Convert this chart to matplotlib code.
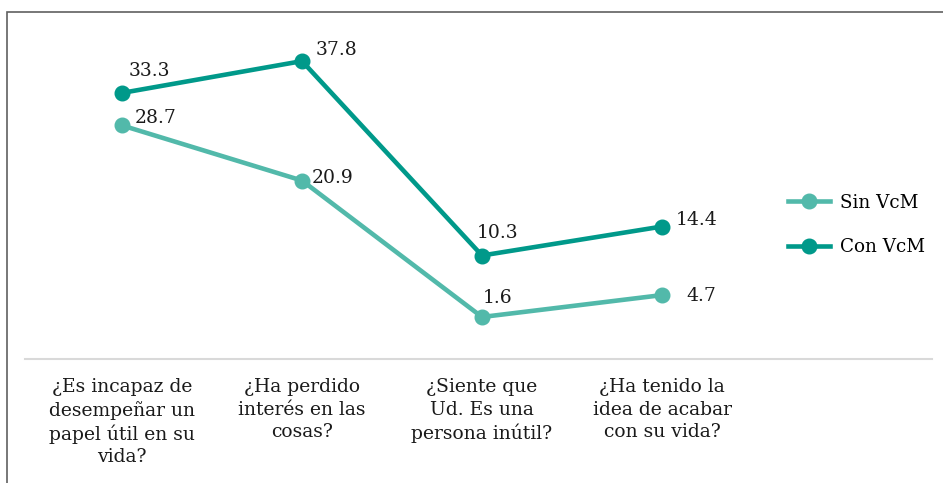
import matplotlib
matplotlib.use("Agg")
import matplotlib.pyplot as plt
from matplotlib.patches import Rectangle

categories = [
    "¿Es incapaz de\ndesempeñar un\npapel útil en su\nvida?",
    "¿Ha perdido\ninterés en las\ncosas?",
    "¿Siente que\nUd. Es una\npersona inútil?",
    "¿Ha tenido la\nidea de acabar\ncon su vida?",
]
sin_vcm = [28.7, 20.9, 1.6, 4.7]
con_vcm = [33.3, 37.8, 10.3, 14.4]

# label offsets (points) relative to each marker
sin_offsets = [(24, 5), (22, 2), (11, 14), (28, -1)]
con_offsets = [(20, 16), (25, 8), (11, 16), (25, 5)]

plt.rcParams["font.family"] = ["DejaVu Serif"]

fig = plt.figure(figsize=(9.43, 4.83), dpi=100)
ax = fig.add_axes([25 / 943, 124 / 483, 907 / 943, 329 / 483])

x = list(range(len(categories)))
c_sin = "#52b9aa"
c_con = "#00998a"

ax.plot(x, sin_vcm, color=c_sin, lw=3.3, marker="o", ms=10.5, label="Sin VcM")
ax.plot(x, con_vcm, color=c_con, lw=3.3, marker="o", ms=10.5, label="Con VcM")

for xi, v, off in zip(x, sin_vcm, sin_offsets):
    ax.annotate(f"{v:.1f}", (xi, v), xytext=off, textcoords="offset points",
                ha="center", va="center", fontsize=13.5, color="#1a1a1a")
for xi, v, off in zip(x, con_vcm, con_offsets):
    ax.annotate(f"{v:.1f}", (xi, v), xytext=off, textcoords="offset points",
                ha="center", va="center", fontsize=13.5, color="#1a1a1a")

ax.set_xlim(-0.539, 4.5)
ax.set_ylim(-4.34, 42.2)
ax.set_xticks(x)
ax.set_xticklabels(categories, fontsize=13.5, color="#1a1a1a", linespacing=1.3)
ax.tick_params(axis="x", length=0, pad=14)
ax.set_yticks([])
for side in ["top", "right", "left"]:
    ax.spines[side].set_visible(False)
ax.spines["bottom"].set_color("#d9d9d9")
ax.spines["bottom"].set_linewidth(1.5)

ax.legend(loc="center left", bbox_to_anchor=(771 / 943, 1 - 225 / 483),
          bbox_transform=fig.transFigure, frameon=False, fontsize=13.2,
          handlelength=2.3, labelspacing=1.45, handletextpad=0.55)

fig.patches.append(Rectangle((6.5 / 943, -0.1), 1.2, 1.1 - 12.5 / 483,
                             transform=fig.transFigure, fill=False,
                             edgecolor="#606060", lw=1.2))

fig.savefig("out.png", dpi=100)
